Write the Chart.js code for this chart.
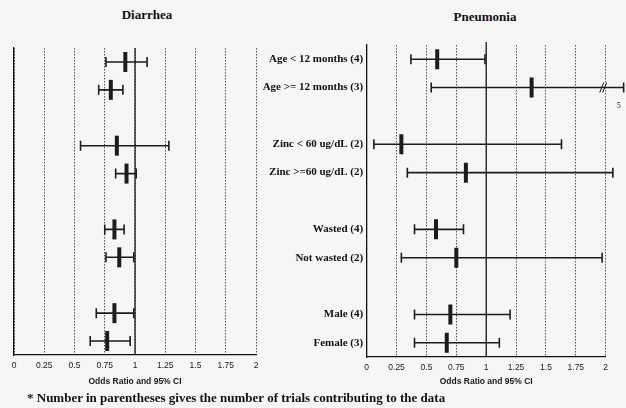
<!DOCTYPE html>
<html lang="en">
<head>
    <meta charset="UTF-8">
    <title>Zinc and odds of diarrhea / pneumonia</title>
    <script src="https://cdn.jsdelivr.net/npm/chart.js"></script>
    <style>
        body {
            margin: 0;
            width: 626px;
            height: 408px;
            position: relative;
            overflow: hidden;
            background: #f6f6f6;
            font-family: 'Liberation Serif', serif;
            color: #111;
        }
        canvas {
            position: absolute;
            left: 0;
            top: 0;
        }
        .title {
            position: absolute;
            font-weight: bold;
            font-size: 13px;
            transform: translate(-50%, -50%);
            white-space: nowrap;
        }
        .note {
            position: absolute;
            left: 27px;
            top: 390px;
            font-weight: bold;
            font-size: 13px;
            white-space: nowrap;
        }
    </style>
</head>
<body>

<div class="title" style="left:147px; top:15px">Diarrhea</div>
<div class="title" style="left:485px; top:17px">Pneumonia</div>
<canvas id="diarrheaChart" width="626" height="408"></canvas>
<canvas id="pneumoniaChart" width="626" height="408"></canvas>
<div class="note">* Number in parentheses gives the number of trials contributing to the data</div>

<script>
    // blank entries are the gaps between subgroups
    const categories = ['Age < 12 months (4)', 'Age >= 12 months (3)', '',
        'Zinc < 60 ug/dL (2)', 'Zinc >=60 ug/dL (2)', '',
        'Wasted (4)', 'Not wasted (2)', '',
        'Male (4)', 'Female (3)'];
    const groups = categories.filter(c => c !== '');
    const oddsTicks = [0, 0.25, 0.5, 0.75, 1, 1.25, 1.5, 1.75, 2];

    const diarrheaOR   = [0.92, 0.80, 0.85, 0.93, 0.83, 0.87, 0.83, 0.77];
    const diarrheaLow  = [0.76, 0.70, 0.55, 0.84, 0.75, 0.76, 0.68, 0.63];
    const diarrheaHigh = [1.10, 0.90, 1.28, 1.01, 0.91, 0.99, 0.99, 0.96];

    const pneumoniaOR   = [0.59, 1.38, 0.29, 0.83, 0.58, 0.75, 0.70, 0.67];
    const pneumoniaLow  = [0.37, 0.54, 0.06, 0.34, 0.40, 0.29, 0.40, 0.40];
    const pneumoniaHigh = [0.99, 5, 1.63, 2.06, 0.81, 1.97, 1.20, 1.11];

    const axisBreak = 2.15; // CIs past this are cut and marked with //

    // CI whiskers + the solid line at OR = 1, drawn under the OR ticks
    const ciBars = {
        id: 'ciBars',
        beforeDatasetsDraw(chart, args, opts) {
            const { ctx, chartArea, scales: { x } } = chart;
            const pts = chart.getDatasetMeta(0).data;
            ctx.save();
            ctx.strokeStyle = '#1c1c1c';
            ctx.fillStyle = '#1c1c1c';

            const x1 = x.getPixelForValue(1);
            ctx.lineWidth = 1.3;
            ctx.beginPath();
            ctx.moveTo(x1, chartArea.top - opts.refExtend);
            ctx.lineTo(x1, chartArea.bottom);
            ctx.stroke();

            opts.low.forEach((lo, i) => {
                const y = pts[i].y;
                const hi = opts.high[i];
                const cut = hi > opts.cutAt;
                const xl = x.getPixelForValue(lo);
                const xh = x.getPixelForValue(cut ? opts.cutAt : hi);
                ctx.lineWidth = 1.6;
                ctx.beginPath();
                ctx.moveTo(xl, y); ctx.lineTo(xh, y);
                ctx.moveTo(xl, y - 5); ctx.lineTo(xl, y + 5);
                ctx.moveTo(xh, y - 5); ctx.lineTo(xh, y + 5);
                ctx.stroke();
                if (cut) {
                    const xb = x.getPixelForValue(x.max) - 3;
                    ctx.lineWidth = 1;
                    ctx.beginPath();
                    ctx.moveTo(xb - 3, y + 5); ctx.lineTo(xb + 1, y - 5);
                    ctx.moveTo(xb, y + 5); ctx.lineTo(xb + 4, y - 5);
                    ctx.stroke();
                    ctx.font = '8px "Liberation Serif"';
                    ctx.textAlign = 'center';
                    ctx.textBaseline = 'middle';
                    ctx.fillText(String(hi), xh - 5, y + 18);
                }
            });
            ctx.restore();
        }
    };

    function makeChart(id, or, low, high, pad, bottom, showLabels, refExtend) {
        const ctx = document.getElementById(id).getContext('2d');
        return new Chart(ctx, {
            type: 'scatter',
            data: {
                datasets: [{
                    data: groups.map((g, i) => ({ x: or[i], y: g })),
                    pointStyle: 'line',
                    pointRotation: 90,
                    pointRadius: 10,
                    pointHoverRadius: 10,
                    pointBorderWidth: 4,
                    pointBorderColor: '#1c1c1c',
                    pointBackgroundColor: '#1c1c1c'
                }]
            },
            options: {
                responsive: false,
                animation: false,
                events: [],
                layout: { padding: pad },
                plugins: {
                    legend: { display: false },
                    tooltip: { enabled: false },
                    ciBars: { low: low, high: high, cutAt: axisBreak, refExtend: refExtend }
                },
                scales: {
                    x: {
                        type: 'linear',
                        min: 0,
                        max: 2,
                        afterBuildTicks: s => { s.ticks = oddsTicks.map(v => ({ value: v })); },
                        afterFit: s => {
                            s.height = 408 - bottom;
                            s.paddingLeft = 0;
                            s.paddingRight = 0;
                        },
                        ticks: {
                            callback: v => String(v),
                            autoSkip: false,
                            maxRotation: 0,
                            padding: 6,
                            color: '#1a1a1a',
                            font: { family: 'Liberation Sans', size: 8.5 }
                        },
                        grid: { color: '#555', lineWidth: 1, drawTicks: false },
                        border: { display: true, color: '#111', width: 1.3, dash: [1.5, 1.5] },
                        title: {
                            display: true,
                            text: 'Odds Ratio and 95% CI',
                            color: '#1a1a1a',
                            font: { family: 'Liberation Sans', size: 8.5, weight: 'bold' },
                            padding: { top: 0, bottom: 21 }
                        }
                    },
                    y: {
                        type: 'category',
                        labels: categories,
                        offset: true,
                        afterFit: s => {
                            s.width = showLabels ? 366.7 - pad.left : 0;
                            s.paddingTop = 0;
                            s.paddingBottom = 0;
                        },
                        ticks: {
                            display: showLabels,
                            autoSkip: false,
                            padding: 3.5,
                            color: '#111',
                            font: { family: 'Liberation Serif', size: 11, weight: 'bold' }
                        },
                        grid: { display: false, drawTicks: false },
                        border: { display: true, color: '#111', width: 1.3 }
                    }
                }
            },
            plugins: [ciBars]
        });
    }

    makeChart('diarrheaChart', diarrheaOR, diarrheaLow, diarrheaHigh,
        { left: 14, right: 370, top: 48, bottom: 0 }, 355, false, 0);
    makeChart('pneumoniaChart', pneumoniaOR, pneumoniaLow, pneumoniaHigh,
        { left: 258, right: 20.3, top: 45, bottom: 0 }, 357, true, 3);
</script>

</body>
</html>
